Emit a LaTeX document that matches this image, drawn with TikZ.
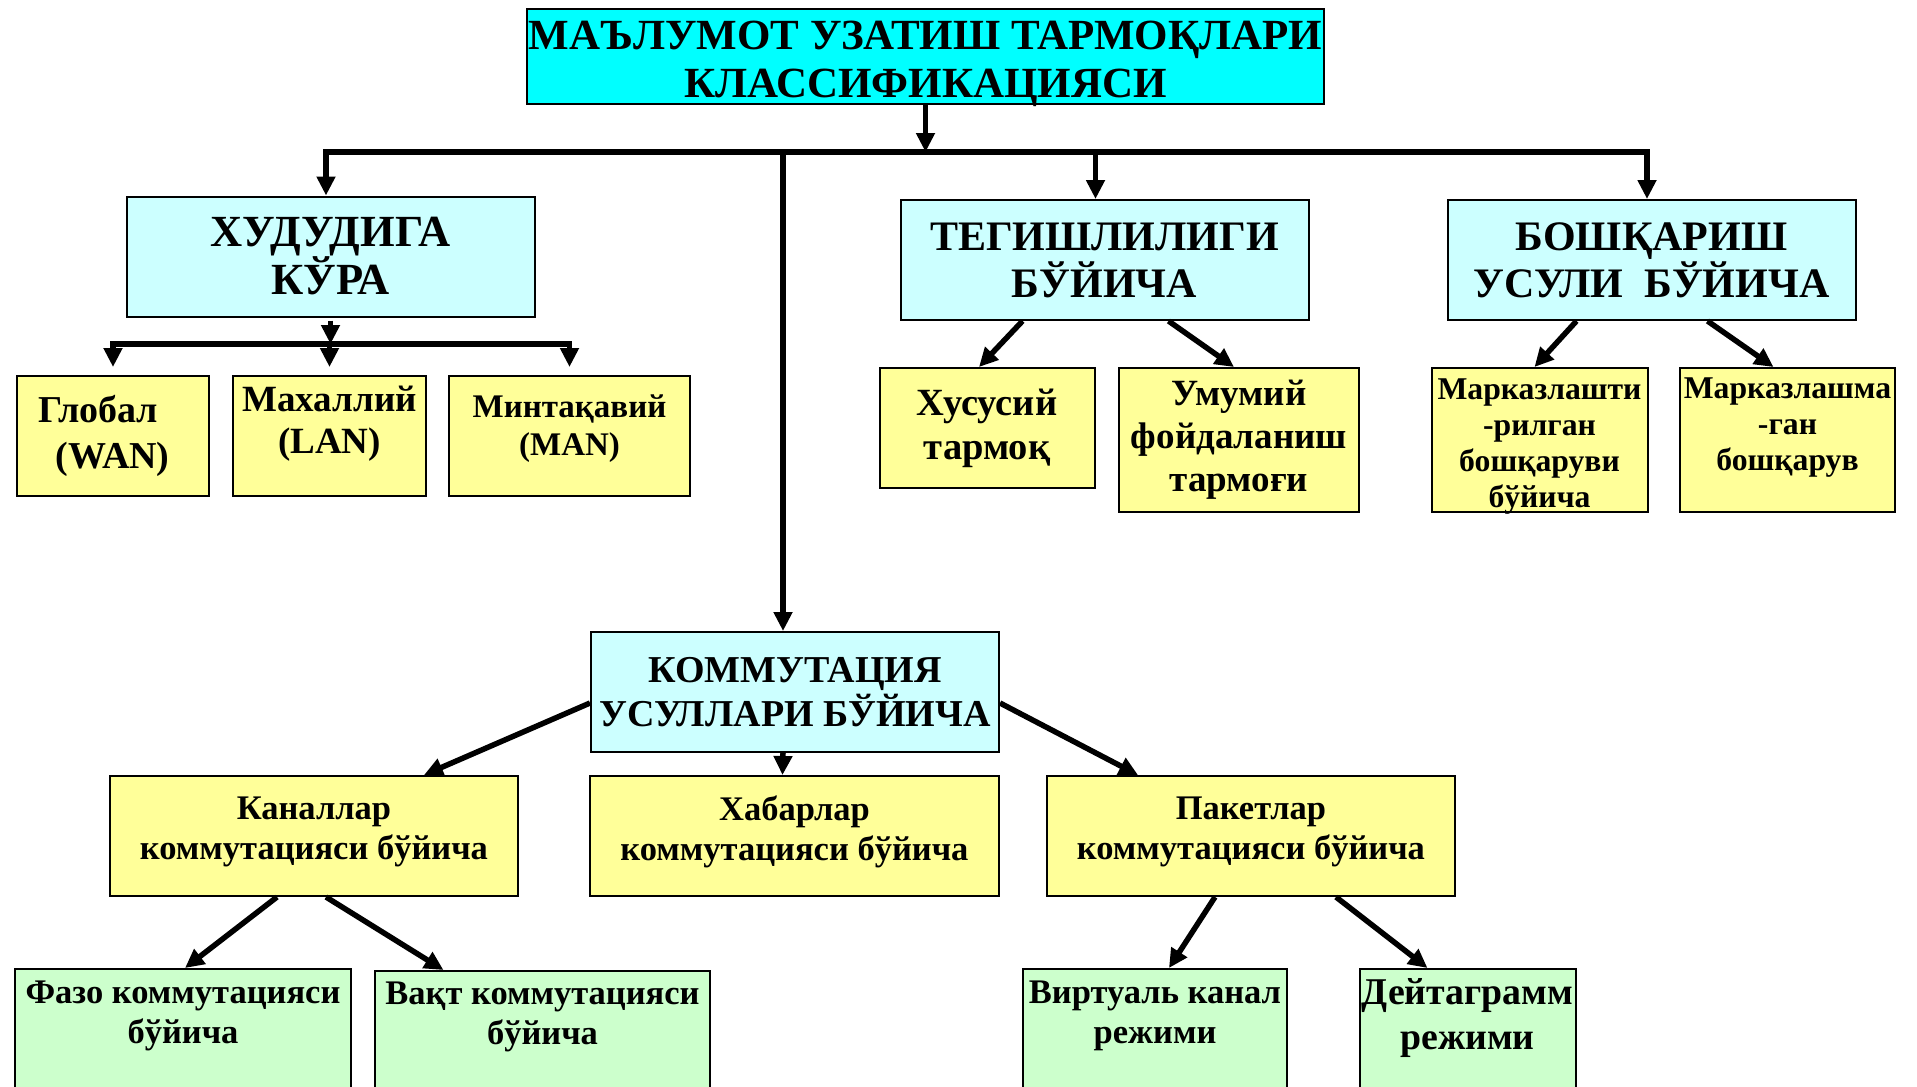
\documentclass[tikz,border=0pt]{standalone}
\usepackage{fontspec}
\setmainfont{Liberation Serif}
\usetikzlibrary{arrows.meta,positioning}
\definecolor{titlecyan}{RGB}{0,255,255}
\definecolor{catcyan}{RGB}{204,255,255}
\definecolor{subyellow}{RGB}{255,255,153}
\definecolor{leafgreen}{RGB}{204,255,204}
\newcommand{\bigfont}{\fontsize{42}{47}\selectfont\bfseries}
\newcommand{\midfont}{\fontsize{34.5}{40}\selectfont\bfseries}
\newcommand{\lift}[1]{\rule[-#1]{0pt}{#1}}% extra depth, text goes up
\newcommand{\drop}[1]{\rule{0pt}{#1}}% extra height, text goes down
\tikzset{
  cellbox/.style={draw,line width=2pt,align=center,inner sep=0pt},
  titlebox/.style={cellbox,fill=titlecyan,minimum width=797pt,minimum height=95pt,inner ysep=-6pt,font=\fontsize{43}{48}\selectfont\bfseries},
  catbox/.style={cellbox,fill=catcyan,minimum width=408pt,minimum height=120pt,font=\bigfont},
  subbox/.style={cellbox,fill=subyellow,minimum height=120pt,font=\midfont},
  leafbox/.style={cellbox,fill=leafgreen,minimum height=200pt,anchor=north},
  leaftext/.style={align=center,inner sep=0pt,font=\midfont},
  arr/.style={line width=5.5pt,-{Triangle[length=19pt,width=18pt]}},
  busline/.style={line width=5.5pt,line cap=rect}
}
\begin{document}
\begin{tikzpicture}[x=1pt,y=-1pt]
 \useasboundingbox (0,0) rectangle (1917,1087);
 \clip (0,0) rectangle (1917,1087);
 % level 0 and 1
 \node[titlebox] (title) at (925.5,56) {\drop{45pt}МАЪЛУМОТ УЗАТИШ ТАРМОҚЛАРИ\\КЛАССИФИКАЦИЯСИ};
 \node[catbox,font=\fontsize{44.5}{48}\selectfont\bfseries] (hudud) at (330.5,256.5) {ХУДУДИГА\\КЎРА};
 \node[catbox] (tegish) at (1104.5,260) {ТЕГИШЛИЛИГИ\\БЎЙИЧА};
 \node[catbox] (boshq) at (1651.5,260) {БОШҚАРИШ\\УСУЛИ\ \ БЎЙИЧА};
 \node[catbox,font=\fontsize{38}{44}\selectfont\bfseries] (kommut) at (795,692) {КОММУТАЦИЯ\\УСУЛЛАРИ БЎЙИЧА};
 % level 2
 \node[subbox,minimum width=192pt,align=left,font=\fontsize{38}{46}\selectfont\bfseries] (global) at (113,436) {Глобал\\\hspace{0.45em}(WAN)\rule{18pt}{0pt}};
 \node[subbox,minimum width=193pt,font=\fontsize{37}{42}\selectfont\bfseries] (mahal) at (329.5,436) {Махаллий\\(LAN)\lift{32pt}};
 \node[subbox,minimum width=241pt,font=\fontsize{33}{38}\selectfont\bfseries] (mintaq) at (569.5,436) {Минтақавий\\(MAN)\lift{22pt}};
 \node[subbox,minimum width=215pt,font=\fontsize{38.5}{44}\selectfont\bfseries] (xusus) at (987,428) {Хусусий\\тармоқ};
 \node[subbox,minimum width=240pt,minimum height=144pt,font=\fontsize{37}{43}\selectfont\bfseries] (umumiy) at (1239,440) {Умумий\\фойдаланиш\\тармоғи};
 \node[subbox,minimum width=216pt,minimum height=144pt,inner ysep=-4pt,font=\fontsize{31.7}{36}\selectfont\bfseries] (markaz) at (1539.5,440) {\drop{33pt}Марказлашти\\-рилган\\бошқаруви\\бўйича};
 \node[subbox,minimum width=215pt,minimum height=144pt,font=\fontsize{31.7}{36}\selectfont\bfseries] (markazsiz) at (1787.5,440) {Марказлашма\\-ган\\бошқарув\lift{31pt}};
 \node[subbox,minimum width=408pt] (kanal) at (314,836) {Каналлар\\коммутацияси бўйича\lift{16pt}};
 \node[subbox,minimum width=409pt] (xabar) at (794.5,836) {Хабарлар\\коммутацияси бўйича\lift{16pt}};
 \node[subbox,minimum width=408pt] (paket) at (1251,836) {Пакетлар\\коммутацияси бўйича\lift{16pt}};
 % level 3
 \node[leafbox,minimum width=336pt] (fazo) at (183,968) {};
 \node[leafbox,minimum width=335pt] (vaqt) at (542.5,970) {};
 \node[leafbox,minimum width=264pt] (virtual) at (1155,968) {};
 \node[leafbox,minimum width=216pt] (deyta) at (1467.5,968) {};
 \node[leaftext,below=13pt of fazo.north] (fazotxt) {Фазо коммутацияси\\бўйича};
 \node[leaftext,below=12pt of vaqt.north] (vaqttxt) {Вақт коммутацияси\\бўйича};
 \node[leaftext,below=13pt of virtual.north] (virtualtxt) {Виртуаль канал\\режими};
 \node[leaftext,below=10pt of deyta.north,font=\fontsize{37.8}{45}\selectfont\bfseries] (deytatxt) {Дейтаграмм\\режими};
 % main bus
 \coordinate (busL) at (326,152);
 \coordinate (busR) at (1647,152);
 \coordinate (tegtop) at ([xshift=-9pt]tegish.north);
 \coordinate (komtop) at ([xshift=-12pt]kommut.north);
 \draw[arr] (title.south) -- (title.south |- busL);
 \draw[busline] (busL) -- (busR);
 \draw[arr] (busL) -- (busL |- hudud.north);
 \draw[arr] (tegtop |- busL) -- (tegtop);
 \draw[arr] (busR) -- (busR |- boshq.north);
 \draw[arr] (komtop |- busL) -- (komtop);
 % hudud bus
 \coordinate (hbusL) at (113,344);
 \coordinate (hbusR) at (569,344);
 \draw[arr,shorten <=3pt] (hudud.south) -- (hudud.south |- hbusL);
 \draw[busline] (hbusL) -- (hbusR);
 \foreach \leaf in {global,mahal,mintaq} {
    \draw[arr,shorten >=8pt] (\leaf.north |- hbusL) -- (\leaf.north);
 }
 % diagonal arrows
 \draw[arr] ([xshift=-82pt]tegish.south) -- ([xshift=-8pt]xusus.north);
 \draw[arr] ([xshift=64pt]tegish.south) -- ([xshift=-5pt]umumiy.north);
 \draw[arr] ([xshift=-75pt]boshq.south) -- ([xshift=-5pt]markaz.north);
 \draw[arr] ([xshift=56pt]boshq.south) -- ([xshift=-14pt]markazsiz.north);
 \draw[arr] ([yshift=-11pt]kommut.west) -- ([xshift=110pt]kanal.north);
 \draw[arr] ([xshift=-12pt]kommut.south) -- ([xshift=-12pt]xabar.north);
 \draw[arr] ([yshift=-11pt]kommut.east) -- ([xshift=-113pt]paket.north);
 \draw[arr] ([xshift=-37pt]kanal.south) -- ([xshift=2pt]fazo.north);
 \draw[arr] ([xshift=12pt]kanal.south) -- ([xshift=-99pt]vaqt.north);
 \draw[arr] ([xshift=-36pt]paket.south) -- ([xshift=14pt]virtual.north);
 \draw[arr] ([xshift=85pt]paket.south) -- ([xshift=-40pt]deyta.north);
\end{tikzpicture}
\end{document}
